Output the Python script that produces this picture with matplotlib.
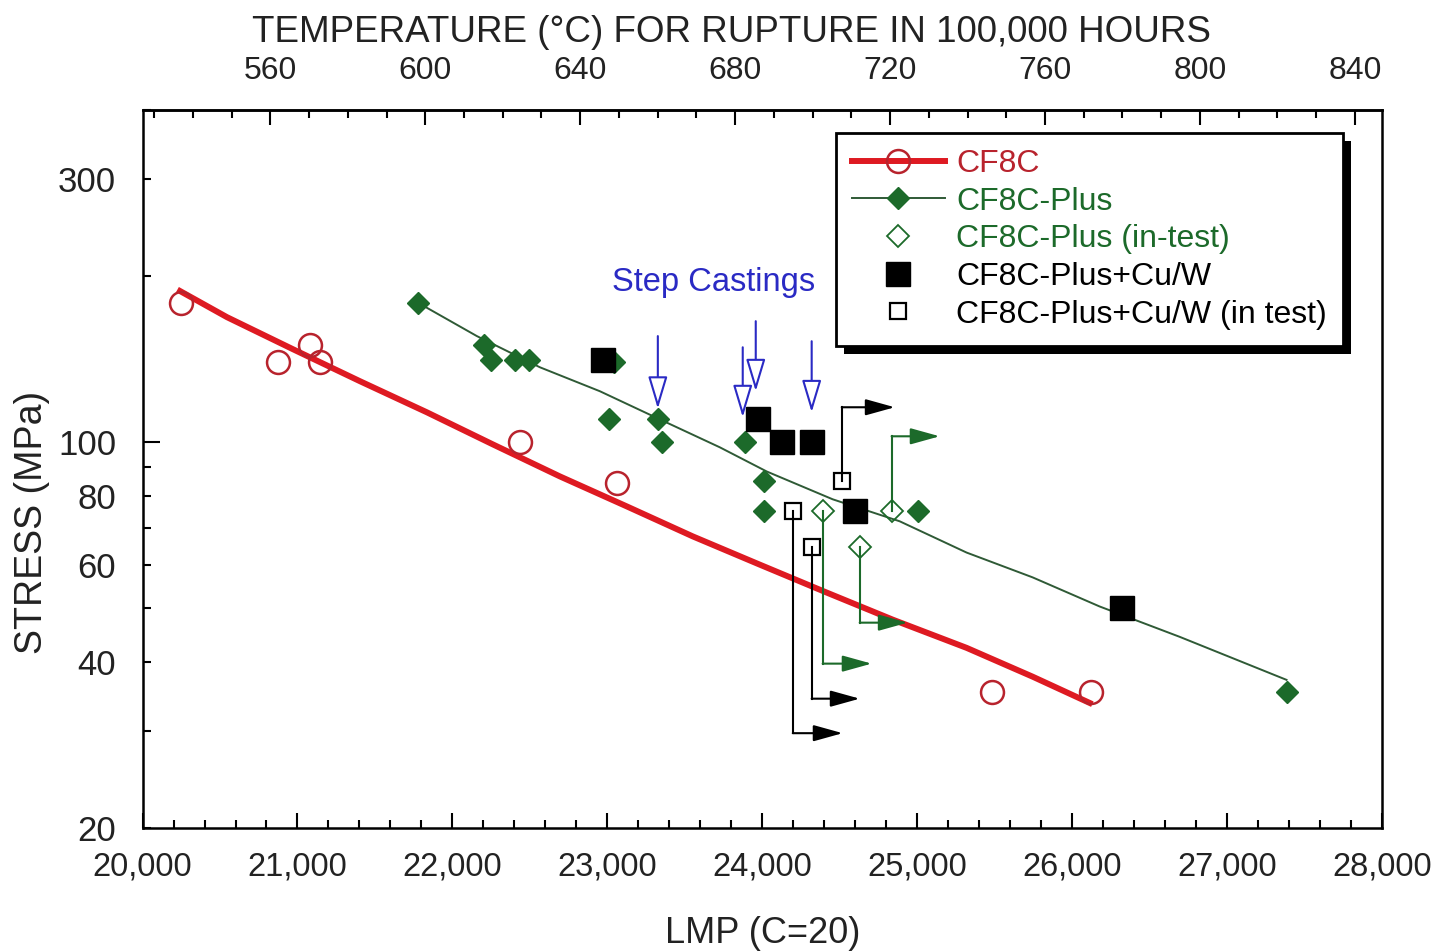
import numpy as np
import matplotlib.pyplot as plt
from matplotlib.ticker import FixedLocator, FuncFormatter, MultipleLocator
from matplotlib.lines import Line2D
from matplotlib.patches import Rectangle
from matplotlib.transforms import IdentityTransform

plt.rcParams['font.family'] = ['Liberation Sans', 'DejaVu Sans']

# ---- data: LMP (C=20) and stress (MPa) ----
# CF8C
cf8c_lmp = [20250, 20875, 21080, 21145, 22435, 23060, 25480, 26125]
cf8c_mpa = [179, 140, 150, 140, 100, 84.5, 35.2, 35.2]
cf8c_fit_lmp = [20242, 20545, 20971, 21403, 21835, 22261, 22694, 23126,
                23552, 23984, 24416, 24842, 25319, 25745, 26113]
cf8c_fit_mpa = [187.9, 168.5, 147.4, 129.0, 113.3, 99.1, 86.7, 76.5,
                67.5, 60.0, 53.4, 47.7, 42.4, 37.6, 33.7]

# CF8C-Plus
plus_lmp = [21777, 22203, 22248, 22403, 22494, 23042, 23010, 23326,
            23352, 23887, 24010, 24010, 25003, 27384]
plus_mpa = [179, 150, 141, 141, 141, 140, 110, 110,
            100, 100, 85, 75, 75, 35.2]
plus_fit_lmp = [21771, 22158, 22565, 22952, 23339, 23726, 24029, 24455,
                24887, 25319, 25745, 26177, 26694, 27384]
plus_fit_mpa = [179.4, 155.7, 136.7, 123.7, 110.0, 97.9, 88.5, 78.8,
                71.9, 63.1, 56.9, 50.4, 44.4, 37.1]

# CF8C-Plus (in-test) with run-out arrows
plus_test_lmp = [24390, 24835, 24629]
plus_test_mpa = [75, 75, 64.7]
plus_test_turn = [39.7, 102.5, 47.1]
plus_test_end = [24706, 25145, 24939]

# CF8C-Plus+Cu/W
cuw_lmp = [22971, 23971, 24126, 24319, 24597, 26319]
cuw_mpa = [141, 110, 100, 100, 75, 50.1]

# CF8C-Plus+Cu/W (in test) with run-out arrows
cuw_test_lmp = [24513, 24197, 24319]
cuw_test_mpa = [84.9, 75, 64.7]
cuw_test_turn = [115.7, 29.7, 34.3]
cuw_test_end = [24855, 24519, 24629]

# step casting arrows
step_lmp = [23326, 23874, 23958, 24319]
step_top = [155.7, 148.6, 165.7, 152.4]
step_tip = [115.0, 111.0, 123.7, 113.3]

y_labels = [20, 40, 60, 80, 100, 300]

red_line = '#de1a22'
red_mark = '#b8232d'
green = '#1c6a2a'
green_line = '#2f5a36'
blue = '#2a2ac4'
txt = '#222222'

fig = plt.figure(figsize=(14.37, 9.52), dpi=100)
ax = fig.add_axes([0.0992, 0.1303, 0.8625, 0.7542])

ax.plot(cf8c_fit_lmp, cf8c_fit_mpa, color=red_line, lw=4.3, zorder=3)
ax.plot(cf8c_lmp, cf8c_mpa, 'o', ms=16.5, mfc='none', mec=red_mark, mew=1.8, zorder=4)

ax.plot(plus_fit_lmp, plus_fit_mpa, color=green_line, lw=1.4, zorder=3)
ax.plot(plus_lmp, plus_mpa, 'D', ms=10.7, color=green, zorder=4)

# run-out arrows for in-test specimens
def runout(xs, ys, turns, ends, c):
    for x0, y0, y1, x1 in zip(xs, ys, turns, ends):
        ax.plot([x0, x0], [y0, y1], color=c, lw=1.5, zorder=4)
        ax.annotate('', xy=(x1, y1), xytext=(x0, y1),
                    arrowprops=dict(arrowstyle='-|>,head_length=0.9,head_width=0.25',
                                    color=c, lw=1.5, shrinkA=0, shrinkB=0,
                                    mutation_scale=20), zorder=4)

runout(plus_test_lmp, plus_test_mpa, plus_test_turn, plus_test_end, green)
runout(cuw_test_lmp, cuw_test_mpa, cuw_test_turn, cuw_test_end, 'black')

ax.plot(plus_test_lmp, plus_test_mpa, 'D', ms=11, mfc='none', mec=green, mew=1.3, zorder=5)
ax.plot(cuw_lmp, cuw_mpa, 's', ms=16.6, color='black', zorder=5)
ax.plot(cuw_test_lmp, cuw_test_mpa, 's', ms=12, mfc='none', mec='black', mew=1.6, zorder=5)

for x, y0, y1 in zip(step_lmp, step_top, step_tip):
    ax.annotate('', xy=(x, y1), xytext=(x, y0),
                arrowprops=dict(arrowstyle='-|>,head_length=1.0,head_width=0.3',
                                fc='white', ec=blue, lw=1.5, shrinkA=0, shrinkB=0,
                                mutation_scale=20), zorder=6)
ax.text(23687, 195, 'Step Castings', color=blue, fontsize=23.5, ha='center', va='center')

# axes
ax.set_xlim(20000, 28000)
ax.set_yscale('log')
ax.set_ylim(20, 400)
ax.xaxis.set_major_locator(MultipleLocator(1000))
ax.xaxis.set_minor_locator(MultipleLocator(200))
ax.xaxis.set_major_formatter(FuncFormatter(lambda v, p: '{:,.0f}'.format(v)))
ax.yaxis.set_major_locator(FixedLocator([100]))
ax.yaxis.set_minor_locator(FixedLocator([20, 30, 40, 50, 60, 70, 80, 90, 200, 300, 400]))
ax.yaxis.set_major_formatter(FuncFormatter(lambda v, p: '%d' % round(v)))
ax.yaxis.set_minor_formatter(FuncFormatter(lambda v, p: '%d' % round(v) if round(v) in y_labels else ''))

ax.tick_params(axis='both', which='both', direction='in', top=False, right=False,
               colors='black', labelcolor=txt, width=1.5)
ax.tick_params(axis='x', which='major', length=11, labelsize=23.5, pad=17)
ax.tick_params(axis='x', which='minor', length=6)
ax.tick_params(axis='y', which='major', length=12, labelsize=25, pad=19)
ax.tick_params(axis='y', which='minor', length=6, labelsize=25, pad=19)
for s in ax.spines.values():
    s.set_linewidth(1.8)

ax.set_xlabel('LMP (C=20)', fontsize=26, color=txt, labelpad=24)
ax.set_ylabel('STRESS (MPa)', fontsize=27, color=txt)
ax.yaxis.set_label_coords(-0.075, 0.426)

def lmp2t(x):
    return np.asarray(x) / 25.0 - 273

def t2lmp(t):
    return (np.asarray(t) + 273) * 25.0

sec = ax.secondary_xaxis('top', functions=(lmp2t, t2lmp))
sec.set_xticks(range(560, 841, 40))
sec.xaxis.set_minor_locator(MultipleLocator(10))
sec.tick_params(axis='x', which='both', direction='in', labelcolor=txt, width=1.5)
sec.tick_params(axis='x', which='major', length=11, labelsize=23, pad=17)
sec.tick_params(axis='x', which='minor', length=6)
sec.spines['top'].set_linewidth(1.8)
sec.set_xlabel('TEMPERATURE (°C) FOR RUPTURE IN 100,000 HOURS', fontsize=26.5, color=txt, labelpad=10)
sec.xaxis.label.set_x(0.4748)

# legend
handles = [
    Line2D([], [], color=red_line, lw=4.3, marker='o', ms=16.5, mfc='none', mec=red_mark, mew=1.8),
    Line2D([], [], color=green_line, lw=1.4, marker='D', ms=10.7, mfc=green, mec=green),
    Line2D([], [], ls='none', marker='D', ms=11, mfc='none', mec=green, mew=1.3),
    Line2D([], [], ls='none', marker='s', ms=16.6, color='black'),
    Line2D([], [], ls='none', marker='s', ms=12, mfc='none', mec='black', mew=1.6),
]
labels = ['CF8C', 'CF8C-Plus', 'CF8C-Plus (in-test)', 'CF8C-Plus+Cu/W', 'CF8C-Plus+Cu/W (in test)']
leg = ax.legend(handles, labels, loc='upper left', bbox_to_anchor=(0.5595, 0.968),
                borderaxespad=0, fontsize=23, handlelength=2.9, handletextpad=0.37,
                borderpad=0.5, labelspacing=0.24, fancybox=False, framealpha=1)
leg.get_frame().set_edgecolor('black')
leg.get_frame().set_linewidth(2)
leg.set_zorder(10)
for t, c in zip(leg.get_texts(), [red_mark, green, green, 'black', 'black']):
    t.set_color(c)

# offset black shadow behind the legend box
fig.canvas.draw()
bb = leg.get_window_extent()
shadow = Rectangle((bb.x0 + 8, bb.y0 - 8), bb.width, bb.height, transform=IdentityTransform(),
                   facecolor='black', edgecolor='none', zorder=9)
ax.add_patch(shadow)
shadow.set_clip_on(False)

fig.savefig('out.png', dpi=100)
